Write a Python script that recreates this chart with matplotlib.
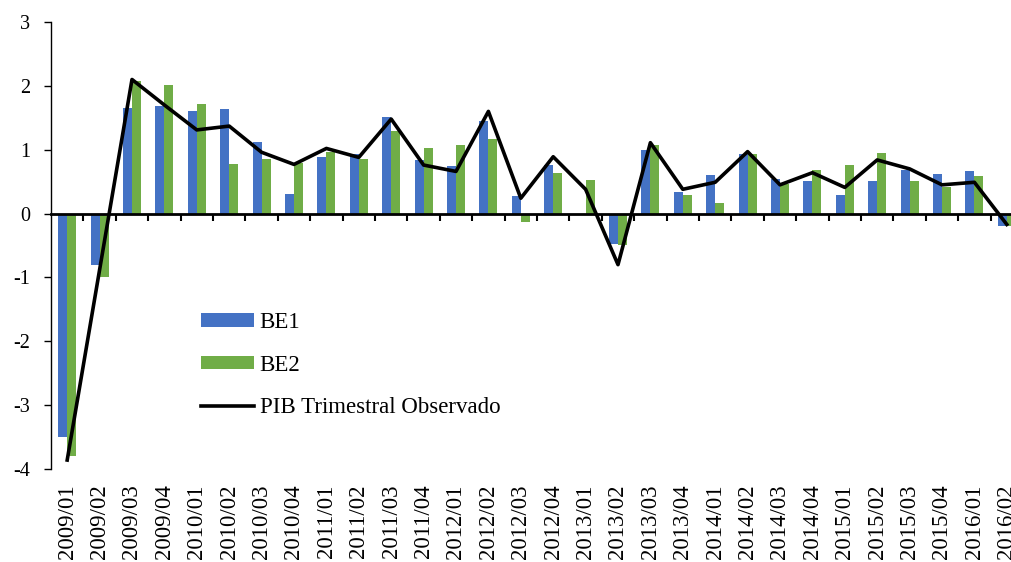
import numpy as np
import matplotlib.pyplot as plt

plt.rcParams['font.family'] = ['Liberation Serif', 'DejaVu Serif']
plt.rcParams['axes.unicode_minus'] = False

# trimestres
quarters = ['2009/01', '2009/02', '2009/03', '2009/04', '2010/01', '2010/02',
            '2010/03', '2010/04', '2011/01', '2011/02', '2011/03', '2011/04',
            '2012/01', '2012/02', '2012/03', '2012/04', '2013/01', '2013/02',
            '2013/03', '2013/04', '2014/01', '2014/02', '2014/03', '2014/04',
            '2015/01', '2015/02', '2015/03', '2015/04', '2016/01', '2016/02']

be1 = [-3.50, -0.81, 1.66, 1.68, 1.60, 1.64, 1.12, 0.31, 0.89, 0.94,
       1.52, 0.84, 0.75, 1.45, 0.28, 0.76, 0.00, -0.47, 0.99, 0.34,
       0.61, 0.93, 0.54, 0.51, 0.29, 0.51, 0.68, 0.62, 0.66, -0.20]
be2 = [-3.79, -1.00, 2.07, 2.02, 1.72, 0.78, 0.85, 0.79, 0.97, 0.86,
       1.30, 1.02, 1.08, 1.16, -0.13, 0.64, 0.53, -0.50, 1.08, 0.29,
       0.16, 0.94, 0.47, 0.68, 0.76, 0.95, 0.51, 0.42, 0.59, -0.19]
pib = [-3.86, -0.88, 2.10, 1.70, 1.31, 1.37, 0.96, 0.77, 1.02, 0.88,
       1.48, 0.76, 0.66, 1.60, 0.24, 0.89, 0.38, -0.80, 1.11, 0.38,
       0.49, 0.97, 0.45, 0.64, 0.41, 0.84, 0.70, 0.45, 0.49, -0.17]

x = np.arange(len(quarters))
w = 0.28

fig = plt.figure(figsize=(10.12, 5.62), dpi=100)
ax = fig.add_axes([51 / 1012, 93 / 562, 972 / 1012, 447 / 562])

b1 = ax.bar(x - w / 2, be1, w, color='#4472C4', label='BE1')
b2 = ax.bar(x + w / 2, be2, w, color='#70AD47', label='BE2')
ln, = ax.plot(x, pib, color='black', lw=2.6, label='PIB Trimestral Observado')

ax.set_xlim(-0.5, len(quarters) - 0.5)
ax.set_ylim(-4, 3)
ax.set_yticks(range(-4, 4))
ax.tick_params(axis='y', direction='out', length=5, width=1, labelsize=14.5, pad=10)

# eje x en cero, con marcas entre categorias
ax.spines['bottom'].set_position(('data', 0))
ax.spines['bottom'].set_linewidth(2)
ax.spines['left'].set_linewidth(1)
ax.spines['top'].set_visible(False)
ax.spines['right'].set_visible(False)
ax.set_xticks(np.arange(len(quarters)) + 0.5)
ax.tick_params(axis='x', direction='out', length=5, width=1.5, labelbottom=False)

sec = ax.secondary_xaxis('bottom')
sec.set_xticks(x, quarters, rotation=90)
sec.tick_params(length=0, labelsize=16.5, pad=11)
sec.spines['bottom'].set_visible(False)

ax.legend([b1, b2, ln], ['BE1', 'BE2', 'PIB Trimestral Observado'],
          loc='upper left', bbox_to_anchor=(0.145, 0.372), frameon=False,
          fontsize=16.5, handlelength=2.3, handleheight=0.55,
          handletextpad=0.25, labelspacing=0.95, borderaxespad=0)

fig.savefig('out.png', dpi=100)
